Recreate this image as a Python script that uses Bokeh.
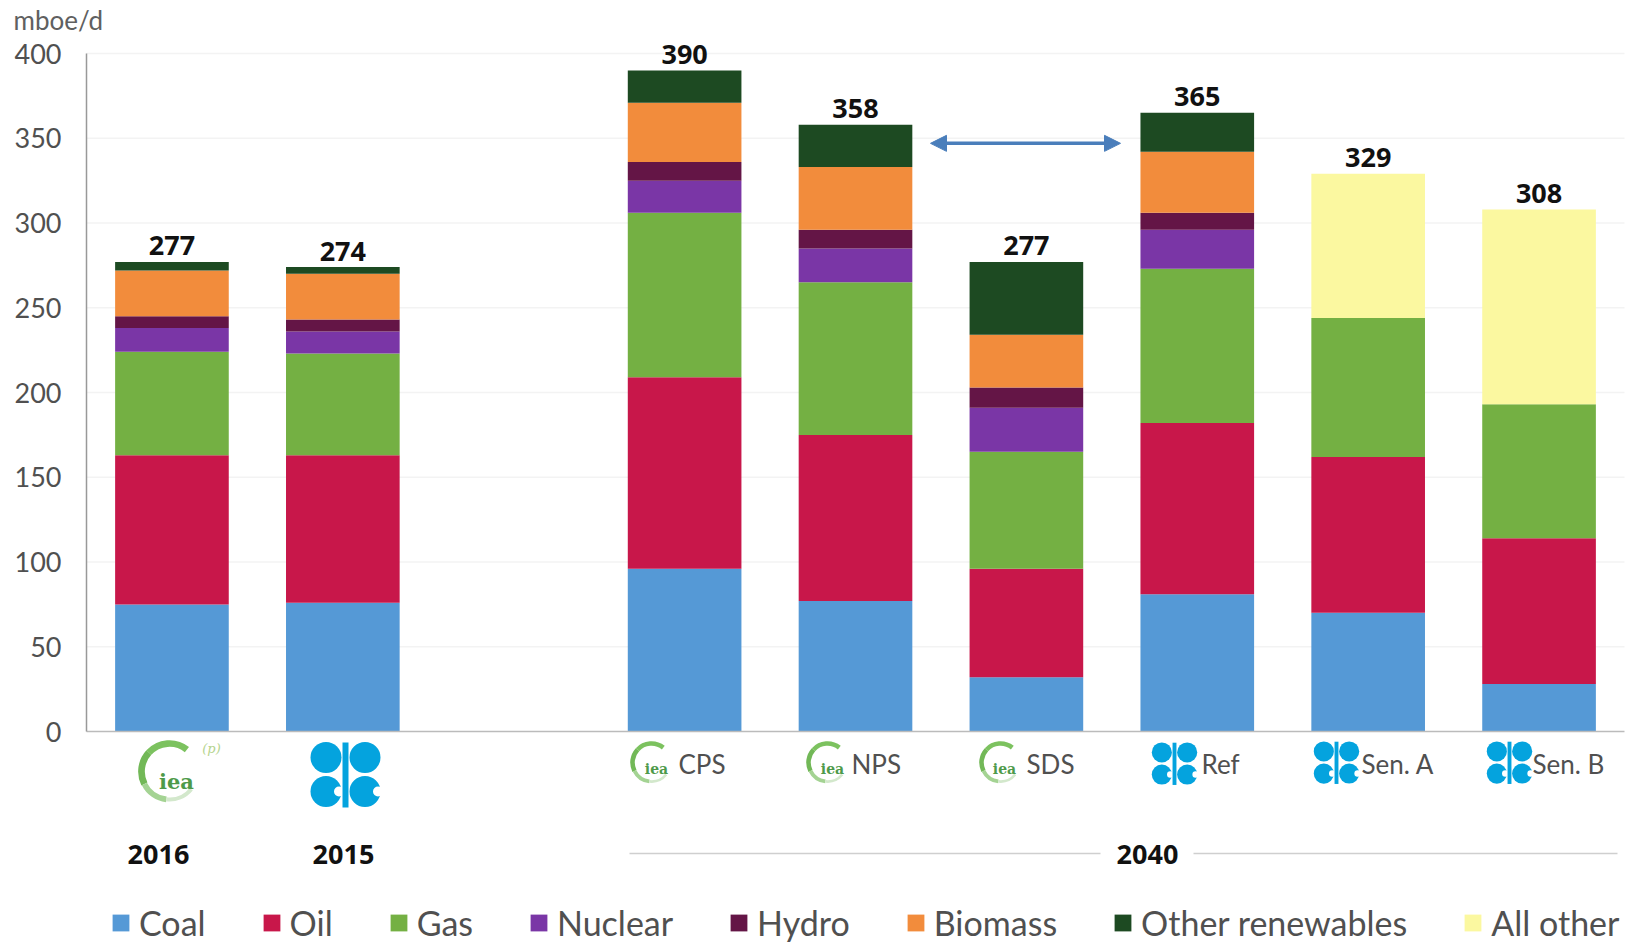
from bokeh.plotting import figure
from bokeh.models import ColumnDataSource, Legend, LegendItem, Arrow, NormalHead, FixedTicker
from bokeh.core.properties import value
from bokeh.embed import file_html
from bokeh.resources import INLINE

categories = ["2016", "2015", "CPS", "NPS", "SDS", "Ref", "Sen. A", "Sen. B"]
slots = [0.5, 1.5, 3.5, 4.5, 5.5, 6.5, 7.5, 8.5]
coal = [75, 76, 96, 77, 32, 81, 70, 28]
oil = [88, 87, 113, 98, 64, 101, 92, 86]
gas = [61, 60, 97, 90, 69, 91, 82, 79]
nuclear = [14, 13, 19, 20, 26, 23, 0, 0]
hydro = [7, 7, 11, 11, 12, 10, 0, 0]
biomass = [27, 27, 35, 37, 31, 36, 0, 0]
other_ren = [5, 4, 19, 25, 43, 23, 0, 0]
all_other = [0, 0, 0, 0, 0, 0, 85, 115]
totals = [277, 274, 390, 358, 277, 365, 329, 308]
series = ["Coal", "Oil", "Gas", "Nuclear", "Hydro", "Biomass", "Other renewables", "All other"]
colors = ["#5599D6", "#C8174A", "#74B043", "#7A36A6", "#641546", "#F28C3C", "#1D4A22", "#FBF8A0"]
y_ticks = [0, 50, 100, 150, 200, 250, 300, 350, 400]

W, H = 1638, 943
AX_L, AX_R, Y0, Y400 = 86, 1624, 731, 53
PX_PER_UNIT = (Y0 - Y400) / 400
BAND = (AX_R - AX_L) / 9
def X(px): return (px - AX_L) / BAND
def Y(py): return (Y0 - py) / PX_PER_UNIT

p = figure(width=W, height=H, output_backend="svg", toolbar_location=None,
           x_range=(X(0), X(W)), y_range=(Y(H), Y(0)),
           min_border_left=0, min_border_right=0, min_border_top=0, min_border_bottom=0,
           outline_line_color=None, background_fill_color="white", border_fill_color="white")

# axes
p.xgrid.visible = False
p.ygrid.visible = False
p.segment(x0=[0] * 8, y0=y_ticks[1:], x1=[9] * 8, y1=y_ticks[1:], line_color="#F3F3F3", line_width=1.5)
ya = p.yaxis[0]
ya.fixed_location = 0
ya.ticker = FixedTicker(ticks=y_ticks)
ya.bounds = (0, 400)
ya.axis_line_color = "#999999"
ya.axis_line_width = 1.5
ya.major_tick_line_color = None
ya.minor_tick_line_color = None
ya.major_label_text_font = "Lato"
ya.major_label_text_font_size = "27px"
ya.major_label_text_color = "#505050"
ya.major_label_standoff = 19
xa = p.xaxis[0]
xa.fixed_location = 0
xa.bounds = (0, 9)
xa.ticker = FixedTicker(ticks=[])
xa.axis_line_color = "#BBBBBB"
xa.axis_line_width = 1.5
xa.major_tick_line_color = None
xa.minor_tick_line_color = None

# bars
src = ColumnDataSource(dict(x=slots, Coal=coal, Oil=oil, Gas=gas, Nuclear=nuclear, Hydro=hydro, Biomass=biomass,
                            **{"Other renewables": other_ren, "All other": all_other}))
rs = p.vbar_stack(series, x="x", width=0.665, color=colors, line_color=None, source=src)
lab = ColumnDataSource(dict(x=slots, y=totals, t=[str(t) for t in totals]))
p.text(x="x", y="y", text="t", source=lab, text_align="center", text_baseline="middle", y_offset=-16, x_offset=0,
       text_font=value("Open Sans"), text_font_style="bold", text_font_size="27px", text_color="#111111")

# arrow
p.add_layout(Arrow(x_start=X(930), x_end=X(1120), y_start=347, y_end=347, line_color="#4A7EBB", line_width=3.5,
                   start=NormalHead(size=16, fill_color="#4A7EBB", line_color="#4A7EBB"),
                   end=NormalHead(size=16, fill_color="#4A7EBB", line_color="#4A7EBB")))

OPEC = "#04A3DE"
def iea(cx, cy, r, fs, tx, ty):
    w = r * 0.24
    for a0, a1, col, lw in [(0.9, 2.4, "#7CC25F", w), (2.4, 3.6, "#72B857", w), (3.6, 4.6, "#A4D393", w * 0.85),
                            (4.6, 5.6, "#D3E8CC", w * 0.6)]:
        p.arc(x=[X(cx)], y=[Y(cy)], radius=r, radius_units="screen", start_angle=a0, end_angle=a1,
              line_color=col, line_width=lw)
    p.text(x=[X(tx)], y=[Y(ty)], text=["iea"], text_font=value("DejaVu Serif"), text_font_size=f"{fs}px",
           text_align="center", text_baseline="middle", text_color="#4E9A4A", text_font_style="bold")

def opec(cx, cy, s):
    dx, dy, rb = 19.5 * s, 17 * s, 15.5 * s
    p.scatter(x=[X(cx - dx), X(cx + dx), X(cx - dx), X(cx + dx)],
              y=[Y(cy - dy), Y(cy - dy), Y(cy + dy), Y(cy + dy)],
              size=2 * rb, color=OPEC, line_color=None)
    p.scatter(x=[X(cx - dx + 13 * s), X(cx + dx + 13 * s)], y=[Y(cy + dy), Y(cy + dy)],
              size=10 * s, color="white", line_color=None)
    p.segment(x0=[X(cx)], y0=[Y(cy - 32 * s)], x1=[X(cx)], y1=[Y(cy + 33 * s)],
              line_color=OPEC, line_width=max(2.5, 6 * s))

iea(169, 771, 28, 21, 176, 781)
p.text(x=[X(211)], y=[Y(748)], text=["(p)"], text_font=value("DejaVu Serif"), text_font_size="13px",
       text_font_style="italic", text_align="center", text_baseline="middle", text_color="#B5D48E")
opec(345, 774, 1.0)
iea(651, 762, 19, 14, 656, 768)
iea(827, 762, 19, 14, 832, 768)
iea(1000, 762, 19, 14, 1004, 768)
opec(1174, 763, 0.65)
opec(1336, 762, 0.65)
opec(1509, 762, 0.65)

# scenario names
name_x = [678, 851, 1026, 1201, 1361, 1532]
p.text(x=[X(v) for v in name_x], y=[Y(763)] * 6, text=categories[2:], text_align="left", text_baseline="middle",
       text_font=value("Lato"), text_font_size="26px", text_color="#505050")

# year labels
p.text(x=[X(158), X(343), X(1147)], y=[Y(854)] * 3, text=["2016", "2015", "2040"], text_align="center",
       text_baseline="middle", text_font=value("Open Sans"), text_font_style="bold", text_font_size="27px",
       text_color="#111111")
p.segment(x0=[X(629), X(1193)], y0=[Y(853)] * 2, x1=[X(1100), X(1617)], y1=[Y(853)] * 2,
          line_color="#CFCFCF", line_width=1.5)

# unit
p.text(x=[X(13)], y=[Y(19)], text=["mboe/d"], text_align="left", text_baseline="middle",
       text_font=value("Lato"), text_font_size="26px", text_color="#606060")

legend = Legend(items=[LegendItem(label=s, renderers=[r]) for s, r in zip(series, rs)],
                orientation="horizontal", location=(110, 0), background_fill_alpha=0, border_line_color=None,
                margin=0, padding=0, spacing=55, glyph_width=21, glyph_height=21, label_standoff=8,
                label_text_font="Lato", label_text_font_size="34px", label_text_color="#505050")
p.add_layout(legend, "center")

open("out.html", "w").write(file_html(p, INLINE))
